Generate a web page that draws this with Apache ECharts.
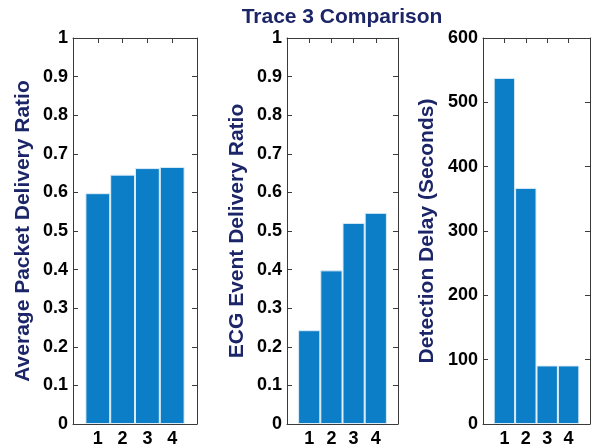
<!DOCTYPE html>
<html>
<head>
<meta charset="utf-8">
<script src="https://cdn.jsdelivr.net/npm/echarts@6/dist/echarts.min.js"></script>
<style>
html,body{margin:0;padding:0;background:#fff;}
#chart{width:599px;height:448px;}
</style>
</head>
<body>
<div id="chart"></div>
<script>
// ---- data ----
var categories = [1, 2, 3, 4];
var xTickLabels = ['1', '2', '3', '4'];
var packetDeliveryRatio = [0.598, 0.646, 0.663, 0.666];
var ecgEventDeliveryRatio = [0.243, 0.398, 0.521, 0.547];
var detectionDelay = [538, 367, 91, 91];
var titleText = 'Trace 3 Comparison';
var yNames = ['Average Packet Delivery Ratio', 'ECG Event Delivery Ratio', 'Detection Delay (Seconds)'];

var navy = '#1b2568';
var barColor = '#0b7ec7';
var axisColor = '#3a3a3a';
var font = "'Liberation Sans', Arial, sans-serif";

var grids = [
  {left: 73, top: 38, width: 124, height: 389},
  {left: 287, top: 38, width: 111, height: 389},
  {left: 483, top: 38, width: 107, height: 389}
];
var yCfg = [
  {max: 1, interval: 0.1, nameGap: 39},
  {max: 1, interval: 0.1, nameGap: 39},
  {max: 600, interval: 100, nameGap: 45}
];
var seriesVals = [packetDeliveryRatio, ecgEventDeliveryRatio, detectionDelay];

var xAxes = [], yAxes = [], series = [];
grids.forEach(function (g, i) {
  // bottom x axis
  xAxes.push({
    type: 'value', gridIndex: i, position: 'bottom', min: 0, max: 5, interval: 1,
    axisLine: {show: true, lineStyle: {color: axisColor, width: 1}},
    axisTick: {show: true, inside: true, length: 5, lineStyle: {color: axisColor}},
    splitLine: {show: false},
    axisLabel: {
      show: true, margin: 6, color: '#000', fontSize: 18, fontWeight: 'bold', fontFamily: font,
      formatter: function (v) { var k = categories.indexOf(v); return k >= 0 ? xTickLabels[k] : ''; }
    }
  });
  // top x axis (box)
  xAxes.push({
    type: 'value', gridIndex: i, position: 'top', min: 0, max: 5, interval: 1,
    axisLine: {show: true, onZero: false, lineStyle: {color: axisColor, width: 1}},
    axisTick: {show: true, inside: true, length: 5, lineStyle: {color: axisColor}},
    splitLine: {show: false}, axisLabel: {show: false}
  });
  // left y axis
  yAxes.push({
    type: 'value', gridIndex: i, position: 'left', min: 0, max: yCfg[i].max, interval: yCfg[i].interval,
    name: yNames[i], nameLocation: 'middle', nameGap: yCfg[i].nameGap,
    nameTextStyle: {color: navy, fontSize: 21, fontWeight: 'bold', fontFamily: font},
    axisLine: {show: true, lineStyle: {color: axisColor, width: 1}},
    axisTick: {show: true, inside: true, length: 5, lineStyle: {color: axisColor}},
    splitLine: {show: false},
    axisLabel: {margin: 5, color: '#000', fontSize: 18, fontWeight: 'bold', fontFamily: font}
  });
  // right y axis (box)
  yAxes.push({
    type: 'value', gridIndex: i, position: 'right', min: 0, max: yCfg[i].max, interval: yCfg[i].interval,
    axisLine: {show: true, onZero: false, lineStyle: {color: axisColor, width: 1}},
    axisTick: {show: true, inside: true, length: 5, lineStyle: {color: axisColor}},
    splitLine: {show: false}, axisLabel: {show: false}
  });
  series.push({
    type: 'bar', xAxisIndex: i * 2, yAxisIndex: i * 2, barWidth: '100%',
    itemStyle: {color: barColor, borderColor: '#dcecf7', borderWidth: 1},
    data: categories.map(function (c, k) { return [c, seriesVals[i][k]]; }),
    silent: true, animation: false
  });
});

var chart = echarts.init(document.getElementById('chart'));
chart.setOption({
  backgroundColor: '#fff',
  animation: false,
  graphic: [{
    type: 'text', x: 342, y: 17.5,
    style: {text: titleText, fill: navy, fontSize: 21, fontWeight: 'bold', fontFamily: font,
            textAlign: 'center', textVerticalAlign: 'middle'}
  }],
  grid: grids.map(function (g) { return Object.assign({containLabel: false}, g); }),
  xAxis: xAxes,
  yAxis: yAxes,
  series: series
});
</script>
</body>
</html>
